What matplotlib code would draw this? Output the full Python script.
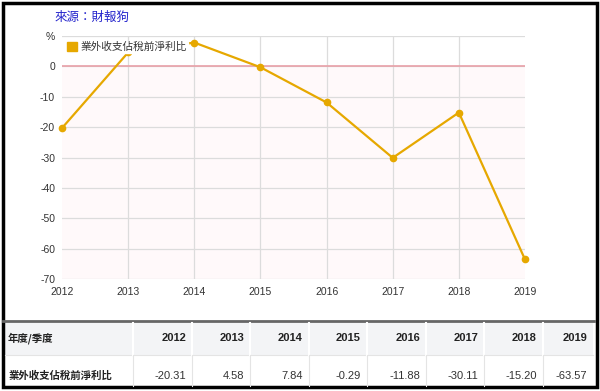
import matplotlib.pyplot as plt
from matplotlib.patches import Rectangle, Patch

plt.rcParams['font.family'] = ['Liberation Sans', 'Noto Sans CJK TC']

years = ['2012', '2013', '2014', '2015', '2016', '2017', '2018', '2019']
values = [-20.31, 4.58, 7.84, -0.29, -11.88, -30.11, -15.20, -63.57]
value_labels = ['-20.31', '4.58', '7.84', '-0.29', '-11.88', '-30.11', '-15.20', '-63.57']
series_name = '業外收支佔稅前淨利比'
yticks = [10, 0, -10, -20, -30, -40, -50, -60, -70]
ytick_labels = ['%', '0', '-10', '-20', '-30', '-40', '-50', '-60', '-70']

W, H = 600, 391
fig = plt.figure(figsize=(W / 100, H / 100), dpi=100)

def fx(px):
    return px / W

def fy(py):
    return 1 - py / H

# ---- chart ----
ax = fig.add_axes([fx(62), fy(279), fx(525) - fx(62), fy(36) - fy(279)])
x = list(range(len(years)))
ax.set_xlim(0, len(years) - 1)
ax.set_ylim(-70, 10)
ax.axhspan(-70, 0, color='#fff9fa', zorder=0)
for yv in yticks:
    ax.axhline(yv, color='#dcdcdc', lw=0.9, zorder=1)
for xv in x[1:-1]:
    ax.axvline(xv, color='#dcdcdc', lw=0.9, zorder=1)
ax.axhline(0, color='#e8a0a8', lw=1.2, zorder=2)
line_color = '#e6a800'
ax.plot(x, values, color=line_color, lw=1.6, marker='o', ms=4.5, zorder=3, clip_on=False)

ax.set_yticks(yticks)
ax.set_yticklabels(ytick_labels)
ax.set_xticks(x)
ax.set_xticklabels(years)
ax.tick_params(length=0, labelsize=7.5, colors='#333333', pad=5)
ax.tick_params(axis='x', pad=6)
for s in ax.spines.values():
    s.set_visible(False)

handle = Patch(facecolor=line_color, edgecolor=line_color)
leg = ax.legend([handle], [series_name], loc='upper left', bbox_to_anchor=(0.006, 0.985),
                frameon=True, handlelength=0.9, handleheight=0.9,
                handletextpad=0.35, borderpad=0.1, borderaxespad=0.1,
                prop={'family': ['Noto Sans CJK TC'], 'size': 7.7})
leg.get_frame().set_facecolor('white')
leg.get_frame().set_edgecolor('white')
leg.get_frame().set_alpha(1)
leg.set_zorder(5)
for t in leg.get_texts():
    t.set_color('#333333')

fig.text(fx(55), fy(17), '來源：財報狗', color='#2222cc', fontsize=9, va='center', ha='left',
         family=['Noto Sans CJK TC'])

# ---- table ----
tab = fig.add_axes([0, 0, 1, 1])
tab.set_xlim(0, W)
tab.set_ylim(H, 0)
tab.axis('off')

col_edges = [5, 133, 192, 250, 309, 367, 426, 484, 543, 593]
head_top, head_bot, row_bot = 323, 355, 386

tab.add_patch(Rectangle((5, head_top), 588, head_bot - head_top, facecolor='#f3f4f6', edgecolor='none'))
tab.plot([3, 594], [321, 321], color='#666666', lw=2)
tab.plot([5, 593], [head_bot, head_bot], color='#e4e4e4', lw=0.8)
for xe in col_edges[1:-1]:
    tab.plot([xe, xe], [head_top, head_bot], color='white', lw=1.5)
    tab.plot([xe, xe], [head_bot, row_bot], color='#e4e4e4', lw=0.8)

cjk = ['Noto Sans CJK TC']
tab.text(8, 338, '年度/季度', fontsize=7.5, fontweight='bold', color='#222222', va='center', ha='left', family=cjk)
tab.text(8, 376, series_name, fontsize=7.5, fontweight='bold', color='#222222', va='center', ha='left', family=cjk)
for i, (yr, lab) in enumerate(zip(years, value_labels)):
    xr = col_edges[i + 2] - 6
    tab.text(xr, 338, yr, fontsize=8, fontweight='bold', color='#222222', va='center', ha='right')
    tab.text(xr, 376, lab, fontsize=8, color='#333333', va='center', ha='right')

# outer frame
tab.add_patch(Rectangle((2.5, 3), 594, 384, facecolor='none', edgecolor='black', lw=2.5))

fig.savefig('out.png', dpi=100)
